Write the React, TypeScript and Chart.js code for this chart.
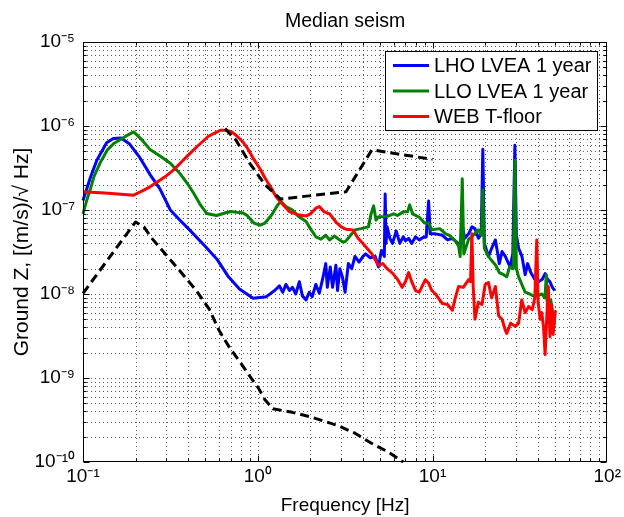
import React, { useEffect, useRef } from 'react';
import { Chart, registerables } from 'chart.js';

Chart.register(...registerables);

// ---------------- data ----------------
const lhoFreq = [0.1, 0.11, 0.12, 0.1365, 0.149, 0.165, 0.185, 0.21, 0.243, 0.275, 0.316, 0.36, 0.407, 0.5, 0.584, 0.68, 0.786, 0.94, 1.12, 1.25, 1.33, 1.39, 1.45, 1.52, 1.58, 1.65, 1.73, 1.8, 1.89, 1.97, 2.05, 2.15, 2.25, 2.35, 2.45, 2.5, 2.6, 2.68, 2.8, 2.86, 2.95, 3.05, 3.16, 3.3, 3.45, 3.6, 3.8, 4.0, 4.14, 4.4, 4.7, 4.9, 5.1, 5.3, 5.36, 5.42, 5.5, 5.7, 5.9, 6.2, 6.5, 6.8, 7.0, 7.3, 7.6, 8.0, 8.4, 8.8, 9.2, 9.5, 9.7, 10.4, 11.4, 12.2, 13.0, 14.0, 14.5, 14.7, 15.3, 16.1, 16.8, 17.5, 18.3, 19.0, 19.4, 19.8, 20.9, 21.8, 22.9, 23.5, 24.1, 25.0, 26.1, 27.0, 27.8, 28.8, 29.6, 30.2, 31.1, 32.5, 33.9, 35.0, 36.5, 38.6, 40.4, 42.5, 44.1, 45.5, 47.0, 48.5, 50.1];
const lhoAsd = [1.3e-7, 2.4e-7, 3.9e-7, 6.3e-7, 7.1e-7, 7.2e-7, 6.1e-7, 4.3e-7, 2.6e-7, 1.8e-7, 1.0e-7, 7.5e-8, 5.8e-8, 3.7e-8, 2.6e-8, 1.6e-8, 1.15e-8, 8.9e-9, 9.3e-9, 1.1e-8, 1.25e-8, 1.05e-8, 1.3e-8, 1.1e-8, 1.2e-8, 1.0e-8, 1.4e-8, 9.5e-9, 8.5e-9, 1.05e-8, 9.3e-9, 1.3e-8, 1.02e-8, 1.5e-8, 2.3e-8, 1.2e-8, 2.1e-8, 1.2e-8, 2.2e-8, 1.1e-8, 2.0e-8, 1.6e-8, 1.05e-8, 2.3e-8, 2.0e-8, 2.8e-8, 2.4e-8, 2.8e-8, 3.0e-8, 2.7e-8, 2.8e-8, 2.1e-8, 3.3e-8, 2.8e-8, 1.55e-7, 4.0e-8, 6.3e-8, 4.6e-8, 4.0e-8, 5.6e-8, 4.0e-8, 4.8e-8, 4.3e-8, 4.6e-8, 4.0e-8, 4.8e-8, 4.4e-8, 4.7e-8, 4.8e-8, 1.28e-7, 5.2e-8, 5.2e-8, 5.0e-8, 4.4e-8, 4.6e-8, 4.0e-8, 3.7e-8, 7.0e-8, 4.6e-8, 5.2e-8, 6.3e-8, 6.0e-8, 4.6e-8, 5.2e-8, 5.3e-7, 4.0e-8, 2.8e-8, 3.5e-8, 4.4e-8, 3.2e-8, 2.3e-8, 3.2e-8, 2.8e-8, 2.4e-8, 2.1e-8, 3.0e-8, 5.9e-7, 5.0e-8, 3.5e-8, 2.8e-8, 1.7e-8, 2.3e-8, 1.8e-8, 1.48e-8, 1.4e-8, 1.5e-8, 1.75e-8, 1.5e-8, 1.4e-8, 1.2e-8, 1.1e-8];

const lloFreq = [0.1, 0.105, 0.11, 0.1155, 0.125, 0.138, 0.15, 0.164, 0.18, 0.195, 0.215, 0.243, 0.28, 0.316, 0.36, 0.4, 0.43, 0.47, 0.51, 0.58, 0.65, 0.7, 0.76, 0.82, 0.87, 0.95, 1.03, 1.1, 1.2, 1.3, 1.36, 1.45, 1.58, 1.7, 1.89, 2.0, 2.15, 2.3, 2.45, 2.58, 2.75, 2.9, 3.05, 3.17, 3.4, 3.6, 3.9, 4.3, 4.45, 4.6, 4.75, 4.9, 5.2, 5.6, 6.0, 6.3, 6.8, 7.2, 7.4, 7.7, 8.4, 9.0, 9.5, 9.9, 11.0, 11.9, 12.5, 13.5, 14.1, 14.4, 14.8, 15.1, 16.1, 16.8, 18.3, 19.1, 19.4, 19.8, 20.9, 21.8, 23.0, 24.1, 25.5, 26.6, 27.6, 29.0, 29.6, 30.2, 31.1, 33.9, 36.0, 38.5, 42.2, 44.0, 44.8, 45.5, 47.5, 49.0, 50.1];
const lloAsd = [9e-8, 1.3e-7, 1.75e-7, 2.5e-7, 3.6e-7, 5.2e-7, 6.2e-7, 6.9e-7, 7.8e-7, 8.5e-7, 7.0e-7, 5.2e-7, 4.3e-7, 3.6e-7, 2.7e-7, 2.0e-7, 1.58e-7, 1.15e-7, 9.1e-8, 8.6e-8, 9.2e-8, 9.6e-8, 9.4e-8, 9.3e-8, 8.6e-8, 7.0e-8, 6.6e-8, 7.0e-8, 8.7e-8, 1.15e-7, 1.26e-7, 1.1e-7, 1.0e-7, 8.5e-8, 7.3e-8, 6.0e-8, 4.8e-8, 4.5e-8, 5.0e-8, 4.4e-8, 4.9e-8, 4.5e-8, 4.2e-8, 4.2e-8, 5.0e-8, 5.8e-8, 6.0e-8, 6.3e-8, 9.0e-8, 1.12e-7, 7.6e-8, 8.3e-8, 8.3e-8, 8.5e-8, 9.0e-8, 8.6e-8, 9.5e-8, 9.5e-8, 1.15e-7, 9.0e-8, 8.2e-8, 7.0e-8, 7.0e-8, 5.8e-8, 6.0e-8, 5.2e-8, 5.0e-8, 4.3e-8, 3.7e-8, 2.8e-8, 2.35e-7, 3.0e-8, 4.5e-8, 4.8e-8, 5.8e-8, 5.0e-8, 1.73e-7, 3.5e-8, 2.8e-8, 2.5e-8, 2.2e-8, 1.8e-8, 1.7e-8, 1.6e-8, 2.1e-8, 2.0e-8, 3.9e-7, 2.0e-8, 1.6e-8, 1.05e-8, 1.0e-8, 9.3e-9, 1.0e-8, 9.0e-9, 1.7e-8, 6.5e-9, 8.5e-9, 5.5e-9, 4.3e-9];

const webFreq = [0.1, 0.14, 0.195, 0.22, 0.243, 0.27, 0.296, 0.33, 0.36, 0.4, 0.45, 0.52, 0.57, 0.61, 0.66, 0.71, 0.76, 0.82, 0.87, 0.95, 1.03, 1.1, 1.2, 1.27, 1.4, 1.52, 1.73, 1.9, 2.0, 2.15, 2.25, 2.4, 2.58, 2.8, 3.0, 3.2, 3.5, 3.75, 4.0, 4.5, 4.9, 5.2, 5.5, 5.9, 6.3, 6.7, 7.0, 7.3, 7.6, 8.0, 8.4, 9.1, 9.5, 9.9, 10.4, 11.4, 12.2, 13.0, 13.5, 14.1, 15.0, 16.1, 16.5, 16.8, 17.1, 17.5, 18.3, 19.2, 20.0, 20.9, 21.8, 22.9, 23.9, 25.0, 26.1, 26.6, 28.0, 29.8, 31.1, 32.4, 33.9, 35.5, 37.2, 38.5, 39.5, 40.2, 41.3, 42.2, 43.2, 44.1, 45.0, 46.0, 47.0, 48.0, 49.0, 50.5];
const webAsd = [1.65e-7, 1.58e-7, 1.5e-7, 1.7e-7, 1.9e-7, 2.2e-7, 2.5e-7, 3.0e-7, 3.6e-7, 4.5e-7, 5.7e-7, 7.5e-7, 8.3e-7, 8.9e-7, 8.9e-7, 8.5e-7, 7.6e-7, 6.5e-7, 5.5e-7, 4.0e-7, 3.1e-7, 2.4e-7, 1.8e-7, 1.45e-7, 1.15e-7, 9.5e-8, 8.7e-8, 8.5e-8, 9.0e-8, 1.05e-7, 1.1e-7, 9.5e-8, 9.0e-8, 7.2e-8, 6.3e-8, 5.9e-8, 5.8e-8, 4.6e-8, 4.0e-8, 3.0e-8, 2.2e-8, 2.3e-8, 2.0e-8, 1.77e-8, 1.5e-8, 1.2e-8, 1.4e-8, 1.8e-8, 1.4e-8, 1.1e-8, 1.05e-8, 1.48e-8, 1.35e-8, 1.1e-8, 1.0e-8, 7.7e-9, 7.5e-9, 6.4e-9, 9.0e-9, 1.23e-8, 1.2e-8, 1.48e-8, 1.4e-8, 5.2e-8, 1.2e-8, 5.0e-9, 8.0e-9, 7.5e-9, 1.3e-8, 1.37e-8, 9.0e-9, 1.23e-8, 5.5e-9, 5.0e-9, 3.7e-9, 3.4e-9, 4.5e-9, 4.1e-9, 4.5e-9, 8.5e-9, 6.0e-9, 7.1e-9, 6.5e-9, 9.0e-9, 4.4e-8, 8.0e-9, 5.0e-9, 6.0e-9, 4.0e-9, 1.9e-9, 5.0e-9, 1.23e-8, 3.1e-9, 7.5e-9, 3.3e-9, 6.4e-9];

// black dashed reference curves
const upperDashFreq = [0.65, 0.75, 0.9, 1.1, 1.35, 3.2, 4.5, 10];
const upperDashAsd = [9.3e-7, 6.8e-7, 3.6e-7, 2.0e-7, 1.35e-7, 1.65e-7, 5.2e-7, 4.0e-7];
const lowerDashFreq = [0.1, 0.2, 0.223, 0.25, 0.3, 0.357, 0.445, 0.53, 0.6, 0.69, 0.8, 0.9, 1.0, 1.1, 1.22, 1.58, 2.05, 2.9, 3.6, 4.5, 5.64, 6.8];
const lowerDashAsd = [1.02e-8, 7.2e-8, 6.3e-8, 4.5e-8, 2.9e-8, 1.9e-8, 1.1e-8, 6.5e-9, 3.7e-9, 2.3e-9, 1.5e-9, 1.05e-9, 7.8e-10, 5.5e-10, 4.3e-10, 3.9e-10, 3.4e-10, 2.7e-10, 2.2e-10, 1.66e-10, 1.3e-10, 1.0e-10];

const seriesLabels = ['LHO LVEA 1 year', 'LLO LVEA 1 year', 'WEB T-floor'];
const seriesColors = ['#0000ff', '#008000', '#ff0000'];

const xTickValues = [0.1, 1, 10, 100];
const xTickLabels = ['10⁻¹', '10⁰', '10¹', '10²'];
const yTickValues = [1e-10, 1e-9, 1e-8, 1e-7, 1e-6, 1e-5];
const yTickLabels = ['10⁻¹⁰', '10⁻⁹', '10⁻⁸', '10⁻⁷', '10⁻⁶', '10⁻⁵'];

const titleText = 'Median seism';
const xTitle = 'Frequency [Hz]';
const yTitle = 'Ground Z, [(m/s)/√ Hz]';

// ---------------- helpers ----------------
const FONT = '"Liberation Sans", Arial, Helvetica, sans-serif';
const zip = (f: number[], v: number[]) => f.map((x, i) => ({ x, y: v[i] }));

const labelFor = (values: number[], labels: string[]) => (v: any) => {
  const n = Number(v);
  for (let i = 0; i < values.length; i++) {
    if (Math.abs(Math.log10(n) - Math.log10(values[i])) < 1e-6) return labels[i];
  }
  return '';
};

const gridPlugin = {
  id: 'matlabGrid',
  beforeDatasetsDraw(chart: any) {
    const { ctx, chartArea: a, scales } = chart;
    const xs = scales.x;
    const ys = scales.y;
    ctx.save();
    ctx.strokeStyle = 'rgba(60,60,60,0.85)';
    ctx.lineWidth = 1;
    ctx.setLineDash([1, 3]);
    for (let e = -1; e < 2; e++) {
      for (let m = 1; m < 10; m++) {
        const v = m * Math.pow(10, e);
        const px = Math.round(xs.getPixelForValue(v)) + 0.5;
        if (px <= a.left + 1 || px >= a.right - 1) continue;
        ctx.beginPath();
        ctx.moveTo(px, a.top);
        ctx.lineTo(px, a.bottom);
        ctx.stroke();
      }
    }
    for (let e = -10; e < -5; e++) {
      for (let m = 1; m < 10; m++) {
        const v = m * Math.pow(10, e);
        const py = Math.round(ys.getPixelForValue(v)) + 0.5;
        if (py <= a.top + 1 || py >= a.bottom - 1) continue;
        ctx.beginPath();
        ctx.moveTo(a.left, py);
        ctx.lineTo(a.right, py);
        ctx.stroke();
      }
    }
    ctx.restore();
  },
};

const framePlugin = {
  id: 'matlabFrame',
  afterDatasetsDraw(chart: any) {
    const { ctx, chartArea: a, scales } = chart;
    const xs = scales.x;
    const ys = scales.y;
    ctx.save();
    ctx.setLineDash([]);
    ctx.strokeStyle = '#000';
    ctx.lineWidth = 1;
    const L = Math.round(a.left) + 0.5;
    const R = Math.round(a.right) - 0.5;
    const T = Math.round(a.top) + 0.5;
    const B = Math.round(a.bottom) - 0.5;
    ctx.strokeRect(L, T, R - L, B - T);
    ctx.beginPath();
    for (let e = -1; e < 2; e++) {
      for (let m = 1; m < 10; m++) {
        const v = m * Math.pow(10, e);
        const px = Math.round(xs.getPixelForValue(v)) + 0.5;
        const len = m === 1 ? 6 : 3;
        ctx.moveTo(px, B);
        ctx.lineTo(px, B - len);
        ctx.moveTo(px, T);
        ctx.lineTo(px, T + len);
      }
    }
    for (let e = -10; e < -5; e++) {
      for (let m = 1; m < 10; m++) {
        const v = m * Math.pow(10, e);
        const py = Math.round(ys.getPixelForValue(v)) + 0.5;
        const len = m === 1 ? 6 : 3;
        ctx.moveTo(L, py);
        ctx.lineTo(L + len, py);
        ctx.moveTo(R, py);
        ctx.lineTo(R - len, py);
      }
    }
    ctx.stroke();

    // legend box (inside axes, top right)
    const bx = 385.5, by = 51.5, bw = 212, bh = 79;
    ctx.fillStyle = '#fff';
    ctx.fillRect(bx, by, bw, bh);
    ctx.strokeRect(bx, by, bw, bh);
    const rows = [65.5, 91, 116.5];
    ctx.font = `20px ${FONT}`;
    ctx.textBaseline = 'middle';
    ctx.textAlign = 'left';
    for (let i = 0; i < seriesLabels.length; i++) {
      ctx.strokeStyle = seriesColors[i];
      ctx.lineWidth = 3;
      ctx.beginPath();
      ctx.moveTo(393, rows[i]);
      ctx.lineTo(429, rows[i]);
      ctx.stroke();
      ctx.fillStyle = '#000';
      ctx.fillText(seriesLabels[i], 434, rows[i] + 1);
    }
    ctx.restore();
  },
};

export default function App() {
  const canvasRef = useRef<HTMLCanvasElement | null>(null);

  useEffect(() => {
    if (!canvasRef.current) return;
    const lineBase = { borderWidth: 3, pointRadius: 0, tension: 0, fill: false, borderJoinStyle: 'round' as const };
    const chart = new Chart(canvasRef.current, {
      type: 'line',
      data: {
        datasets: [
          { ...lineBase, label: seriesLabels[0], data: zip(lhoFreq, lhoAsd), borderColor: seriesColors[0], order: 5 },
          { ...lineBase, label: seriesLabels[1], data: zip(lloFreq, lloAsd), borderColor: seriesColors[1], order: 4 },
          { ...lineBase, label: seriesLabels[2], data: zip(webFreq, webAsd), borderColor: seriesColors[2], order: 3 },
          { ...lineBase, label: 'upper dashed', data: zip(upperDashFreq, upperDashAsd), borderColor: '#000', borderDash: [9, 5], order: 2 },
          { ...lineBase, label: 'lower dashed', data: zip(lowerDashFreq, lowerDashAsd), borderColor: '#000', borderDash: [9, 5], order: 1 },
        ] as any,
      },
      options: {
        animation: false,
        responsive: false,
        maintainAspectRatio: false,
        devicePixelRatio: 1,
        clip: 2,
        layout: { padding: { top: 0, right: 15, left: 0, bottom: 0 } },
        plugins: {
          legend: { display: false },
          tooltip: { enabled: false },
          title: {
            display: true,
            text: titleText,
            color: '#000',
            fullSize: false,
            font: { family: FONT, size: 19.5, weight: 'normal' },
            padding: { top: 10, bottom: 8.6 },
          },
        },
        scales: {
          x: {
            type: 'logarithmic',
            min: 0.1,
            max: 100,
            afterBuildTicks: (s: any) => {
              s.ticks = xTickValues.map((v) => ({ value: v }));
            },
            afterFit: (s: any) => {
              s.height = 55;
            },
            ticks: {
              callback: labelFor(xTickValues, xTickLabels),
              color: '#000',
              font: { family: FONT, size: 19 },
              padding: 3,
              maxRotation: 0,
              autoSkip: false,
            },
            grid: { display: false, drawTicks: false },
            border: { display: false },
            title: {
              display: true,
              text: xTitle,
              color: '#000',
              font: { family: FONT, size: 19 },
              padding: { top: 10, bottom: 0 },
            },
          },
          y: {
            type: 'logarithmic',
            min: 1e-10,
            max: 1e-5,
            afterBuildTicks: (s: any) => {
              s.ticks = yTickValues.map((v) => ({ value: v }));
            },
            afterFit: (s: any) => {
              s.width = 83;
            },
            ticks: {
              callback: labelFor(yTickValues, yTickLabels),
              color: '#000',
              font: { family: FONT, size: 19 },
              padding: 8,
              autoSkip: false,
            },
            grid: { display: false, drawTicks: false },
            border: { display: false },
            title: {
              display: true,
              text: yTitle,
              color: '#000',
              font: { family: FONT, size: 21 },
              padding: { top: 9.5, bottom: 0 },
            },
          },
        },
      } as any,
      plugins: [gridPlugin, framePlugin],
    });
    return () => chart.destroy();
  }, []);

  return (
    <div style={{ position: 'absolute', left: 0, top: 0, width: 624, height: 517, background: '#fff' }}>
      <canvas ref={canvasRef} width={624} height={517} style={{ display: 'block', width: 624, height: 517 }} />
    </div>
  );
}
